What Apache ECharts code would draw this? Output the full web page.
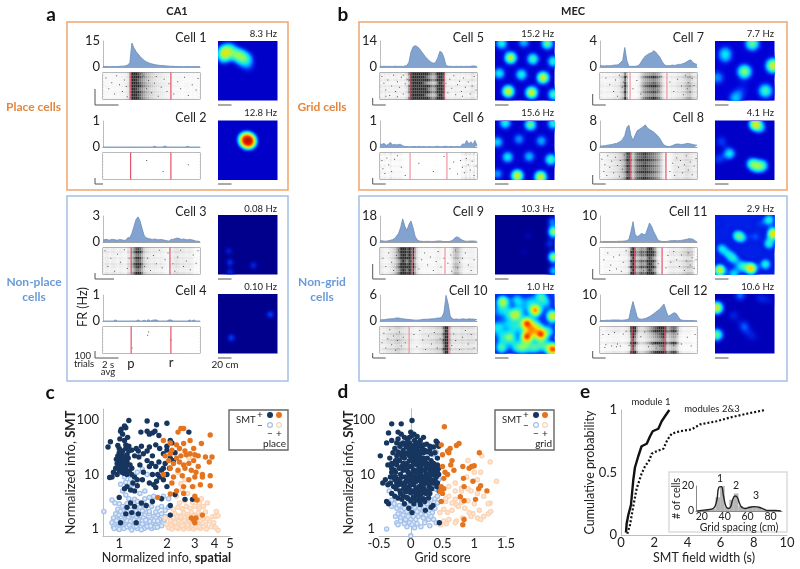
<!DOCTYPE html>
<html>
<head>
<meta charset="utf-8">
<style>html,body{margin:0;padding:0;background:#fff}#chart{width:800px;height:569px}</style>
<script src="https://cdn.jsdelivr.net/npm/echarts@6/dist/echarts.min.js"></script>
</head>
<body>
<div id="chart"></div>
<script>
const cellNames = ['Cell 1','Cell 2','Cell 3','Cell 4','Cell 5','Cell 6','Cell 7','Cell 8','Cell 9','Cell 10','Cell 11','Cell 12']
const peakRates = ['8.3 Hz','12.8 Hz','0.08 Hz','0.10 Hz','15.2 Hz','15.6 Hz','7.7 Hz','4.1 Hz','10.3 Hz','1.0 Hz','2.9 Hz','10.6 Hz']
const frMax = [15,1,3,1,14,1,4,8,18,6,10,10]
const timeBins = ['0','1','2','3','4','5','6','7','8','9','10','11','12','13','14','15','16','17','18','19','20','21','22','23','24','25','26','27','28','29','30','31','32','33','34','35','36','37','38','39','40','41','42','43','44','45','46','47']

// firing rate per time bin
const fr1 = [.3,.3,.3,.2,.3,.3,.3,.3,.4,.5,.5,.7,1.1,2.5,13.8,11,9,7.5,6,4.8,3.8,3,2.5,2,1.7,1.4,1.2,1,.9,.8,.7,.6,.5,.4,.4,.3,.3,.3,.3,.2,.3,.3,.3,.2,.3,.2,.3,.2]
const fr2 = [0,0,0,0,0,0,0,0,0,0,0,0,0,0,0,0,0,0,0,0,0,0,0,0,0,.03,0,0,0,0,.04,0,0,0,0,0,0,0,0,0,0,.03,0,0,0,0,0,0]
const fr3 = [.2,.3,.3,.2,.3,.3,.25,.2,.3,.25,.2,.2,.5,.5,1,1.8,2.6,2.9,2.4,1.5,.7,.5,.4,.35,.3,.35,.3,.25,.3,.25,.2,.15,.1,.3,.3,.4,.45,.4,.3,.35,.3,.25,.3,.25,.2,.1,.1,.05]
const fr4 = [0,0,0,0,0,0,.04,0,0,0,0,0,0,0,0,0,0,.04,0,0,.03,0,.05,0,.03,.04,.04,0,0,0,0,0,.04,.04,0,0,0,0,0,0,0,0,.04,0,.04,0,0,0]
const fr5 = [.4,.3,.4,.3,.4,.3,.3,.4,.4,.3,.4,.3,.5,.8,2.5,8,10.8,11.5,11,10,8.5,7,5.5,4.3,3.2,2.4,2,2.6,5,8.4,7.8,5,.8,.4,.4,.3,.3,.4,.3,.4,.3,.3,.4,.3,.4,.6,.5,.3]
const fr6 = [.12,.1,.14,.06,.1,.18,.08,.1,.08,.1,.1,.05,.02,.02,.01,.01,.02,.02,.01,.03,.01,.02,.01,.01,.02,.01,.01,.02,.03,.01,.01,.02,.03,.01,.02,.02,.01,.02,.02,.01,.12,.1,.25,.12,.2,.1,.25,.05]
const fr7 = [.2,.2,.15,.2,.2,.2,.25,.3,.3,.4,.7,1,3,1,.1,.1,.1,.1,.15,.3,.8,1.3,1.7,1.9,2.1,2.2,2.5,2.3,1.9,1.5,.9,.4,.2,.2,.2,.3,.25,.3,.4,.4,.5,.6,.8,1,1.1,.7,.5,.4]
const fr8 = [.3,.3,.4,.5,.6,.7,.8,1,1.1,1.4,1.8,2.4,3.5,6,6.7,3.5,2,3.6,5,5.4,5.8,6.3,6.8,5.8,5.4,5,4.6,4,3.4,2.6,1.5,.6,.3,.15,.2,.4,.7,.9,.9,.8,.8,.9,1.1,1.1,.9,.8,.6,.6]
const fr9 = [1,.8,.6,.6,.8,1.2,1.6,2.4,4,6,10,16,11,8,12,14.5,10,4,1.5,.7,.5,.4,.4,.5,.4,.4,.4,.5,.7,.7,.5,.3,.3,.3,.5,1,2.5,3.5,3.3,2,1.2,.7,.5,.6,.7,.7,.6,.4]
const fr10 = [.2,.3,.3,.4,.45,.5,.5,.6,.7,.7,.6,.5,.45,.4,.35,.3,.25,.2,.2,.25,.3,.4,.4,.4,.45,.5,.5,.6,.7,.7,.9,2,5.9,4,1.2,.5,.4,.45,.4,.4,.5,.45,.4,.5,.45,.45,.4,.3]
const fr11 = [.1,.1,.2,.2,.2,.2,.2,.2,.2,.25,.3,.3,.4,.5,1,4,7.8,3,2,2.5,3.3,3,2.8,5,7.3,6,4,2.5,.8,.4,.2,.2,.2,.3,.5,.5,.6,.5,.5,.6,.7,.9,1,1.3,1.2,1.1,.5,0]
const fr12 = [.2,.2,.2,.3,.3,.3,.4,.4,.4,.4,.3,.3,.4,.5,.8,4.5,7.5,4.5,1.6,.8,.7,.8,1,1.3,1.7,2.2,2.8,3.4,4,4.6,5.6,6.5,4,1.8,2.2,2.8,3.2,2.8,1.5,.5,.3,.2,.2,.2,.2,.15,.1,.1]
const firingRates = [fr1,fr2,fr3,fr4,fr5,fr6,fr7,fr8,fr9,fr10,fr11,fr12]

// rate at which a raster column looks fully black
const rasterSat = [8,10,3,10,5,2,3,7,10,3,5,5]
// how busy each band of trials is, bottom to top
const trialBands = [
  [1,.9,1.1,.8,1.2,1,.85,1.1,.95],
  [1,1,1,1,1,1,1,1,1],
  [1.2,.7,1,1.3,.8,1.1,.7,1.2,.9],
  [1,1,1,1,1,1,1,1,1],
  [1.3,.7,1.3,.9,1.4,.6,1.3,.8,1.2],
  [1.2,.6,.9,.5,1,.4,.9,.5,1.2],
  [1.2,.7,1.1,.8,1.3,.9,.7,1.2,.6],
  [1.1,.8,1.2,.9,1.1,.85,1.2,.9,1],
  [1.1,.8,1.2,1,.7,1.2,.9,1.1,1],
  [.8,1.3,.7,1,1.3,.8,1.2,.7,1],
  [1.2,.7,1.3,.8,1.2,.6,1.1,1.2,.8],
  [1.4,.5,.6,1.5,.5,.7,.8,1.5,1.1],
]
const pTime = [28,28.5,29,29,32,31,31,31,33,30,36,33]
const rTime = [70,70,69,70,66,69,69,68,67,71,64,67]

// loose spikes, [time %, trial %]
const spikes1 = [[3,80],[6,40],[9,62],[12,20],[14,88],[17,55],[20,30],[22,72],[25,10],[24,48],[38,15],[42,88],[45,40],[47,70],[50,25],[53,60],[55,85],[57,12],[60,45],[63,75],[66,30],[68,58],[73,20],[77,66],[80,40],[84,82],[88,15],[92,55],[96,35],[98,78]]
const spikes2 = [[45,70],[62,30],[88,55]]
const spikes3 = [[2,88],[5,30],[8,60],[12,12],[15,75],[18,45],[22,92],[25,22],[27,60],[40,85],[43,30],[46,60],[49,15],[52,70],[55,40],[58,90],[61,25],[64,55],[67,80],[72,40],[74,12],[77,65],[80,90],[83,30],[86,50],[90,18],[93,72],[96,42],[98,88]]
const spikes4 = [[47,80],[46,68],[70,50],[30,20]]
const spikes5 = [[2,85],[4,60],[6,35],[8,72],[10,15],[12,50],[14,90],[16,30],[18,66],[20,45],[22,82],[24,20],[26,58],[28,75],[30,38],[68,60],[70,25],[72,75],[74,42],[76,88],[78,18],[80,55],[82,68],[84,30],[86,80],[88,45],[91,65],[93,20],[95,50],[97,85],[99,35],[6,12],[18,10],[24,90],[85,12]]
const spikes6 = [[2,70],[3,40],[5,22],[7,80],[9,55],[12,30],[15,75],[18,88],[22,45],[26,15],[40,60],[55,30],[66,85],[72,40],[76,65],[80,20],[83,70],[85,45],[87,25],[89,78],[91,55],[93,35],[95,68],[97,15],[99,50]]
const spikes7 = [[6,80],[10,55],[14,30],[16,72],[18,12],[20,90],[23,45],[24,65],[25,25],[27,85],[34,40],[38,70],[42,20],[56,60],[60,35],[63,85],[72,65],[76,30],[80,75],[84,50],[86,18],[88,90],[90,40],[91,62],[93,28],[95,78],[97,52]]
const spikes8 = [[2,75],[4,30],[5,55],[7,15],[8,88],[10,45],[12,68],[14,25],[16,82],[18,52],[20,12],[21,70],[23,38],[25,90],[72,30],[75,60],[77,15],[79,80],[81,45],[83,70],[85,25],[87,55],[89,88],[91,35],[93,65],[95,18],[97,50],[99,78]]
const spikes9 = [[3,60],[6,30],[9,80],[12,45],[14,15],[17,70],[19,90],[40,20],[43,55],[46,80],[49,35],[52,65],[55,15],[58,48],[60,85],[63,28],[66,60],[70,42],[73,72],[80,25],[85,60],[88,80],[91,35],[94,15],[97,55],[74,12],[78,90],[82,45]]
const spikes10 = [[2,40],[4,75],[6,20],[8,55],[10,88],[12,32],[14,65],[16,12],[18,48],[20,80],[22,28],[24,60],[26,40],[35,70],[38,25],[41,85],[44,50],[47,15],[50,65],[53,35],[56,78],[59,20],[62,55],[74,30],[76,72],[78,48],[82,15],[85,60],[88,85],[91,35],[94,70],[97,20],[99,50]]
const spikes11 = [[4,55],[8,80],[11,35],[14,65],[17,20],[20,72],[24,45],[27,88],[30,28],[45,15],[60,40],[68,25],[70,70],[73,45],[76,85],[79,55],[82,30],[84,72],[87,15],[89,50],[91,80],[93,35],[95,62],[97,22],[99,55],[10,15],[22,12]]
const spikes12 = [[3,70],[6,32],[9,70],[12,28],[15,78],[18,35],[21,28],[24,72],[27,82],[30,30],[42,62],[46,80],[50,25],[54,35],[58,20],[62,28],[64,72],[76,30],[80,72],[84,35],[90,60],[94,28],[98,70],[5,22],[17,25],[70,80]]
const rasterSpikes = [spikes1,spikes2,spikes3,spikes4,spikes5,spikes6,spikes7,spikes8,spikes9,spikes10,spikes11,spikes12]

// firing fields on the rate maps, [x, y, strength]
const fields1 = [[11,82,.93],[10,73,.5],[20,87,.42],[31,77,.58],[40,74,.45],[49,70,.38],[52,56,.18],[40,62,.18]]
const fields2 = [[49,67,.9],[52,65,.7],[45,69,.5]]
const fields3 = [[18,40,.17],[20,21,.22],[20,5,.2],[59,16,.2]]
const fields4 = [[87,66,.25],[22,27,.25]]
const fields5 = [[26,72,.68],[63,70,.5],[97,66,.45],[7,46,.42],[44,44,.45],[80,39,.88],[22,16,.75],[61,14,.83],[98,11,.5],[11,96,.45],[48,98,.35],[87,96,.55]]
const fields6 = [[17,96,.45],[59,93,.55],[97,95,.45],[40,69,.3],[4,64,.38],[77,66,.33],[21,39,.42],[57,40,.35],[93,35,.5],[37,8,.8],[76,6,.95],[4,11,.3]]
const fields7 = [[17,81,.3],[62,96,.55],[49,49,.6],[97,59,.85],[4,39,.3],[84,17,.5],[34,5,.35],[45,19,.15],[17,72,.22]]
const fields8 = [[67,94,.95],[76,88,.3],[24,45,.42],[11,65,.2],[62,28,.5],[79,25,.45],[70,22,.35],[6,36,.2]]
const fields9 = [[98,72,.9],[98,30,.85],[92,52,.2],[98,7,.4],[96,89,.3],[55,66,.08],[48,40,.06]]
const fields10 = [[53,51,.8],[53,29,.8],[76,33,.85],[67,73,.65],[34,65,.5],[96,63,.55],[13,87,.5],[96,8,.85],[25,28,.42],[11,11,.38],[48,11,.38],[70,48,.3],[3,45,.3],[37,90,.3],[76,96,.35],[20,50,.25],[65,11,.35],[62,40,.5],[58,88,.25],[90,38,.28],[20,70,.25],[45,75,.2],[85,85,.25],[35,45,.3],[35,12,.3],[80,15,.32],[10,30,.25],[5,70,.2]]
const fields11 = [[97,69,.9],[8,8,.65],[60,11,.8],[90,52,.4],[37,66,.38],[11,44,.35],[31,27,.35],[45,15,.4],[84,18,.4],[90,92,.4],[67,64,.2],[31,2,.35],[3,86,.1],[45,62,.32],[22,35,.3],[75,85,.15]]
const fields12 = [[3,77,.85],[3,32,.55],[42,98,.25],[48,47,.22],[31,64,.15],[76,93,.15],[65,28,.1],[90,90,.1],[55,35,.12]]
const rateFields = [fields1,fields2,fields3,fields4,fields5,fields6,fields7,fields8,fields9,fields10,fields11,fields12]

// panel c, [normalized info spatial, normalized info SMT]
const placeSmtPos = [[.88,40],[.85,32],[1.08,78],[1.15,98],[1.03,68],[1.02,62],[1.05,55],[1.1,72],[1.13,48],[1.08,42],[1.01,45],[1.5,96],[1.72,82],[2.0,87],[1.5,62],[1.55,55],[1.62,58],[1.68,62],[1.78,52],[2.75,60],[1.37,60],
[.98,34],[1.0,30],[1.05,27],[1.1,30],[1.15,27],[1.2,28],[1.28,30],[1.32,27],[1.38,33],[1.42,24],[1.5,27],[1.55,32],[1.62,22],[1.7,35],[1.8,30],[1.9,24],[2.0,28],[2.15,38],[2.25,25],[2.1,42],
[.98,22],[1.0,20],[1.02,18],[1.04,22],[1.06,19],[1.08,16],[.97,16],[1.0,15],[1.03,14],[1.06,14],[1.1,13],[1.12,17],[1.14,20],[1.17,15],[1.2,13],[1.08,12],[1.04,11],[1.0,12],[.95,13],[.92,11],[.9,9],[.87,8.8],[1.12,10],[1.16,11.5],[1.2,10],[1.25,9],[1.3,8],[1.35,15],[1.42,11],[1.5,18],[1.55,14],[1.62,10],[1.7,14],[1.78,17],[1.85,12],[1.95,16],[2.08,13],[2.2,18],
[1.22,7],[1.3,6.2],[1.12,6],[1.08,5.5],[1.18,5.2],[1.25,5],[1.4,8],[1.55,7],[1.65,6.5],[1.72,7.5],[1.8,9],[1.9,8],[2.0,10],[1.7,5.8],[1.0,3.8],[1.18,3],[1.25,2.6],[1.12,2.5],[1.2,2],[1.38,3],[1.48,2.7],[1.32,1.9],[1.62,3.2],[1.85,3.6],[2.1,2.7],[2.25,4.3],[2.0,6],[2.6,3.5],[2.9,3.5],[1.02,1.3],[1.28,1.3],[2.1,1.8],[1.1,1.9],
[1.0,25],[1.04,24],[1.08,21],[1.12,23],[.96,19],[1.01,17],[1.05,16],[1.09,18],[1.13,15],[1.02,13],[1.07,10.5],[.97,10],[1.1,35],[1.15,33],[1.25,22],[1.33,21],[1.6,16],[1.75,10],[1.9,13],[2.1,20],[2.0,33]]
const placeSmtNeg = [[.8,2.1],[.94,3],[1.0,2.9],[1.05,2.6],[.98,2.3],[1.1,2.4],[1.18,2.6],[1.25,2.4],[1.35,2.5],[1.45,2.3],[1.6,2.6],[1.75,2.4],[1.85,2.6],[1.95,2.2],[2.05,2.5],
[.95,1.9],[1.0,1.8],[1.05,1.9],[1.1,1.7],[1.15,1.9],[1.22,1.8],[1.3,1.7],[1.38,1.9],[1.45,1.8],[1.55,1.9],[1.65,1.7],[1.75,1.8],[1.85,1.9],[1.95,1.7],[.92,1.6],[.98,1.5],[1.03,1.6],[1.08,1.5],[1.14,1.6],[1.2,1.5],[1.27,1.6],[1.34,1.5],[1.42,1.6],[1.5,1.5],[1.6,1.5],[1.7,1.6],[1.8,1.5],[1.92,1.45],
[.9,1.3],[.94,1.2],[.98,1.32],[1.02,1.2],[1.06,1.35],[1.1,1.2],[1.15,1.3],[1.2,1.2],[1.25,1.35],[1.3,1.2],[1.36,1.3],[1.42,1.18],[1.48,1.32],[1.55,1.2],[1.62,1.3],[1.7,1.18],[1.78,1.3],[1.85,1.15],[.92,1.1],[.97,1.05],[1.02,1.1],[1.07,1.02],[1.12,1.1],[1.18,1.03],[1.24,1.1],[1.3,1.02],[1.37,1.1],[1.44,1.03],[1.52,1.1],[1.6,1.02],[1.68,1.08],[1.38,.97],[1.2,.96],[1.0,.98],
[1.1,4.2],[1.05,5],[1.15,3.6],[1.25,3.5],[1.3,3.2],[1.45,3.6],[1.55,3.8],[1.65,4],[1.35,4.5],[1.45,5],[1.2,6.5],[1.1,7.2],[1.02,6.6],[1.3,11],[1.4,12.5],[1.5,10],[1.08,9],[1.18,8.2],[1.9,4],[2.05,3.6],[.9,3.4],
[.96,1.42],[1.04,1.44],[1.12,1.42],[1.18,1.38],[1.24,1.46],[1.32,1.42],[1.4,1.4],[1.47,1.45],[1.56,1.38],[1.66,1.42],[1.75,1.4],[.93,1.02],[1.04,1.22],[1.16,1.18],[1.28,1.12],[1.4,1.24],[1.5,1.12],[1.58,1.14],[1.74,1.08],[1.02,2.1],[1.12,2.05],[1.28,2.1],[1.4,2.15],[1.55,2.1],[1.7,2.05],[1.12,2.9],[1.42,2.9]]
const placeSmtNegPlace = [[2.0,1.2],[2.1,1.45],[2.2,1.2],[2.3,1.5],[2.4,1.25],[2.5,1.55],[2.6,1.2],[2.7,1.5],[2.8,1.25],[2.9,1.55],[3.0,1.2],[3.1,1.45],[3.2,1.25],[3.35,1.5],[3.5,1.2],[2.05,1.05],[2.15,1.0],[2.25,1.1],[2.35,1.02],[2.45,1.08],[2.55,1.0],[2.65,1.1],[2.75,1.02],[2.85,1.1],[2.95,1.0],[3.1,1.08],[3.25,1.02],[3.4,1.1],[3.55,1.0],[2.1,1.8],[2.25,1.9],[2.4,1.75],[2.55,2],[2.7,1.85],[2.85,2.05],[3.0,1.8],[3.15,2],[3.3,1.85],[3.5,2.05],[2.2,2.3],[2.35,2.5],[2.5,2.35],[2.65,2.6],[2.8,2.4],[3.0,2.6],[3.2,2.4],[3.4,2.6],[2.4,3],[2.6,3.3],[2.9,3.1],[3.2,3],[3.0,3.8],[2.3,4],[2.7,4.5],[2.5,5.3],[3.3,3.6],[3.6,3],[3.9,1.7],[4.05,1.7],[4.1,2.1],[4.2,1.75],[3.95,1.3],[4.05,1.05],[4.2,.95],[3.7,1.4],[3.8,1.1],[2.45,6.8],[2.6,8],[2.95,6],[2.35,11],[2.75,20],[3.05,22],[2.3,1.7],[3.6,1.55],[1.95,1.6],[2.6,1.6],[3.05,1.4],
[2.12,1.2],[2.25,1.32],[2.38,1.4],[2.48,1.32],[2.58,1.42],[2.68,1.3],[2.78,1.42],[2.88,1.32],[2.98,1.42],[3.12,1.3],[3.25,1.42],[2.2,1.6],[2.45,1.65],[2.75,1.7],[2.95,1.7],[3.2,1.65],[2.3,1.08],[2.5,1.15],[2.7,1.18],[2.9,1.17],[3.05,1.1],[3.2,1.12]]
const placeSmtPosPlace = [[2.55,70],[2.45,70],[3.75,53],[2.35,60],[1.9,42],[2.1,38],[2.3,35],[2.55,37],[2.8,42],[2.95,30],[3.3,37],[2.15,28],[2.4,30],[2.6,27],[1.95,22],[2.1,24],[2.3,20],[2.45,22],[2.65,23],[2.8,24],[3.0,23],[3.15,22],[3.5,21],[3.85,21],[2.05,18],[2.2,16],[2.4,17],[2.55,15],[2.75,16],[2.95,18],[3.15,14],[3.7,17],[2.1,13],[2.35,12],[2.6,13],[2.85,12],[3.05,11],[3.35,10],[1.9,10],[2.2,9],[2.5,9.5],[2.75,8],[3.0,9],[3.35,9],[3.75,9.5],[2.15,7],[2.55,6],[2.9,6],[3.25,6.5],[3.75,6.2],[2.3,5],[2.55,4.5],[3.0,4],[1.75,3.8],[2.1,4.4],[3.1,3.4],[2.85,1.6],[3.05,1.6],[3.35,1.8],[3.0,1.3],[2.95,1.45]]

// panel d, [grid score, normalized info SMT]
const gridSmtPos = [[-.3,85],[-.15,85],[.02,98],[-.35,58],[-.2,60],[-.48,22],[-.38,38],[-.3,42],[-.25,30],[-.2,45],[-.15,55],[-.1,48],[-.05,42],[.0,60],[.05,55],[.1,50],[.15,42],[.2,48],[.25,36],[.02,52],[-.02,38],[.06,35],[.12,33],[.18,30],[.3,28],[.36,32],[.42,38],[-.33,20],[-.28,25],[-.22,22],[-.17,33],[-.12,28],[-.07,32],[-.02,30],[.03,27],[.08,24],[.14,22],[.2,25],[.26,20],[.32,18],[.38,25],[.42,15],
[-.4,8],[-.36,6.5],[-.3,16],[-.26,12],[-.22,15],[-.18,18],[-.14,14],[-.1,20],[-.06,16],[-.02,18],[.02,14],[.06,19],[.1,15],[.14,13],[.18,16],[.22,12],[.26,14],[.3,11],[.34,13],[.38,12],[.42,13],[.44,10],[-.28,9],[-.24,11],[-.2,8],[-.16,10],[-.12,12],[-.08,9],[-.04,11],[.0,10],[.04,12],[.08,9],[.12,11],[.16,10],[.2,8.5],[.24,10],[.28,9],[.32,8],[.36,10],[.4,9],
[-.44,7],[-.32,7],[-.27,6],[-.23,5.5],[-.19,6.5],[-.15,7],[-.11,5.5],[-.07,7.5],[-.03,6],[.01,7.5],[.05,6.5],[.09,7.5],[.13,6],[.17,7],[.21,5.5],[.25,7],[.29,6],[.33,5.5],[.37,7],[.41,6],[.45,5],
[-.38,3.2],[-.35,2.9],[-.3,4.5],[-.25,4],[-.2,3.7],[-.16,4.5],[-.12,4],[-.08,4.8],[-.04,3.6],[0,4.6],[.04,3.8],[.08,4.6],[.12,3.5],[.16,4.4],[.2,3.6],[.24,4.5],[.28,3.7],[.32,2.5],[-.1,2.9],[-.03,2.4],[.05,2.9],[.15,2.8],[.23,2.2],[.35,2.7],[.02,2],[.45,1.3],
[-.2,26],[-.08,24],[.05,22],[.16,19],[-.12,16],[.0,24],[.1,28],[.25,16],[-.36,15],[-.3,11],[.06,11],[.16,13],[-.02,8],[.1,8.5],[-.17,5],[.02,5],[.3,4.5],[-.25,8],[.2,20],[.36,16],[.42,20],[.4,41],[.44,33],[-.1,36],[.2,35],[.3,33],
[-.24,18],[-.18,13],[-.14,21],[-.1,14],[-.06,12],[-.02,14],[.02,20],[.04,16],[.08,18],[.1,12],[.12,17],[.16,15],[.18,12],[.22,17],[.24,14],[.28,13],[.3,15],[.34,10],[.38,14],[.4,11],[-.22,7],[-.18,8],[-.14,9],[-.1,7],[-.06,8],[-.02,10],[.02,9],[.04,7],[.06,8],[.08,11],[.12,9],[.14,8],[.18,9],[.22,8],[.26,8],[.3,7],[.34,7],[.38,8],[-.12,6.5],[-.08,6],[-.04,7.5],[0,6.5],[.04,8.5],[.08,5.5],[.12,5],[.16,5.5],[.2,6.5],[.24,5],[.28,5],[-.06,5],[-.02,5.2],[.06,4.8],[.1,4.2],[.14,4],[.18,4.6],[-.14,3.5],[-.06,3.8],[0,3.3],[.08,3.4],[.14,3.2],[.22,3.2],[-.05,25],[-.02,22],[.02,26],[.06,30],[.1,21],[.14,26],[-.1,24],[-.16,24],[-.2,18],[-.05,34],[.02,33],[.06,42],[.1,38],[-.02,48],[-.12,38],[-.16,36],[-.22,38],[.14,35],[.22,28],[.26,26],[.32,24],[-.26,16],[-.32,9],[-.3,13],[-.24,9],[.36,12],[.42,11],[.42,7],[.44,13]]
const gridSmtNeg = [[-.38,1],[.0,.75],[-.3,2.6],[-.26,2.9],[-.22,2.4],[-.18,2.7],[-.14,2.2],[-.1,2.4],[-.06,2.1],[-.02,2.7],[.02,2.3],[.06,2.5],[.1,2.1],[.14,2.4],[.18,2.1],[.22,2.6],[.26,2.9],[.3,2.2],[.34,2],[.38,2.4],[.42,3],[-.24,1.7],[-.2,1.9],[-.16,1.6],[-.12,1.8],[-.08,1.5],[-.04,1.7],[0,1.5],[.04,1.7],[.08,1.5],[.12,1.7],[.16,1.9],[.2,1.6],[.24,1.8],[.28,1.5],[.32,1.7],[.36,1.5],[.4,1.3],[-.22,1.3],[-.2,1.2],[-.16,1.4],[-.1,1.25],[-.06,1.1],[-.02,1.3],[.02,1.2],[.06,1.05],[.1,1.25],[.16,1.1],[.22,1.3],[.3,1.15],[-.3,3.4],[-.24,3.6],[.32,3.4],[.38,3.6],[.42,4],[.42,5.2],[.38,5.5],[.4,7.5],[.35,23],[.4,26],[-.34,5],[.44,8]]
const gridSmtPosGrid = [[.53,75],[.48,35],[.5,23],[.58,27],[.62,30],[.6,25],[.72,34],[.76,37],[1.08,25],[.65,18],[.63,15],[.68,12],[.5,14],[.54,11],[.52,8.5],[.58,10],[.82,14],[.92,13],[.96,14],[1.0,14.5],[.83,8.5],[.98,7.5],[.48,6],[.52,5.5],[.84,6],[1.1,6.2],[1.07,5.5],[1.2,5],[.84,3.3],[1.02,3.5],[.48,3.2],[.46,5],[.78,3.9],[.84,1.5],[.82,1.2],[.5,4.5]]
const gridSmtNegGrid = [[1.12,22],[1.25,17],[1.35,7.5],[.9,18],[1.0,11],[1.1,11],[.88,9],[1.05,8],[.7,7],[.6,6],[.7,5],[.8,5],[.9,5.5],[.95,5],[1.05,4.5],[1.15,4],[1.25,3],[1.22,2.9],[.6,4],[.7,3.5],[.8,3.1],[.9,3.3],[1,2.9],[1.08,2.2],[.55,3.2],[.65,3],[.72,2.8],[.52,2.3],[.58,2],[.65,2.2],[.75,2.6],[.85,2.4],[.92,2],[.98,1.9],[1.05,1.6],[1.15,1.7],[1.22,1.9],[1.26,2.1],[.52,1.4],[.6,1.5],[.72,1.4],[.82,1.6],[.95,1.7],[1.1,1.5],[.46,2],[.47,1.2],[.56,1.25],[.7,1.3],[.8,5.6],[.55,3.6]]

// panel e, [SMT field width s, cumulative probability]
const module1Cdf = [[.3,.02],[.34,.09],[.44,.16],[.6,.24],[.74,.44],[.84,.54],[1.04,.63],[1.24,.71],[1.55,.73],[1.75,.79],[1.91,.83],[2.25,.85],[2.45,.91],[2.65,.95],[2.91,1]]
const modules23Cdf = [[.38,.01],[.54,.08],[.74,.23],[.94,.37],[1.24,.49],[1.45,.55],[1.71,.6],[1.85,.65],[2.15,.67],[2.55,.69],[2.79,.76],[3.05,.81],[3.55,.83],[4.26,.845],[4.76,.885],[5.76,.91],[6.57,.94],[7.57,.97],[8.67,1]]

// inset, [grid spacing cm, # of cells]
const spacingBars = [[22,1],[26,1.2],[30,2],[34,11],[38,20],[42,3],[46,9],[50,14],[54,4],[58,2],[62,3.5],[66,3.5],[70,3],[74,1.5],[78,.8],[82,.8],[86,.5]]
const spacingCurve = [[16,0],[20,.5],[25,1],[30,2],[33,8],[35,19],[37,19.5],[39,12],[41,4],[43,2],[45,3],[47,9],[49,12],[51,11],[53,6],[55,3],[58,2],[62,3],[66,3.5],[70,3],[74,1.5],[78,.5],[84,.5],[89,0]]

const font = 'Lato'
const textDark = '#222'
const axisGray = '#bdbdbd'

const plotCols = [103, 380, 600]
const mapCols = [218, 495, 715]
const nameRight = [206.5, 484, 704]
const rateRight = [277, 554, 774]
const rowPlotTop = [41, 121, 216, 295]
const rowMapTop = [41, 120.5, 215, 294]
const rowName = [38, 118, 212, 291]
const rowRate = [34, 113, 209, 287]
const rowBar = [105, 184, 279, 358]
const cellCol = [0,0,0,0,1,1,2,2,1,1,2,2]
const cellRow = [0,1,2,3,0,1,0,1,2,3,2,3]
const barTop = [89,178,273,351,98,178,94,175,264,353,269,351]
const barRight = [118.5,103,114,118.5,385.7,385.7,605.7,605.7,385.7,385.7,605.7,605.7]
const barLeft = [95, 372.7, 592.7]
const mapBase = ['#0000c8','#0000c8','#00008c','#00008c','#0000d0','#0000d0','#0000d8','#0000c8','#000090','#0040ff','#0020e8','#0000b8']
const mapBlob = [[5,8],[6,7],[3,5],[3,5],[5,7],[5,7],[6,8],[5,7],[4,6],[6,6],[5,6],[5,7]]
const redLine = ['#e0455c','#e0455c','#e0455c','#e0455c','#e0455c','#f08a9a','#f08a9a','#e0455c','#f08a9a','#f08a9a','#e0455c','#e0455c']

echarts.registerMap('arena', {
  type: 'FeatureCollection',
  features: [{
    type: 'Feature',
    properties: { name: 'arena' },
    geometry: { type: 'Polygon', coordinates: [[[0,0],[0,100],[100,100],[100,0],[0,0]]] },
  }],
})

const grid = []
const xAxis = []
const yAxis = []
const series = []
const geo = []
const graphic = []
const mapSeries = []
const rasterSeries = []

function text(str, x, y, size, opt = {}) {
  graphic.push({
    type: 'text', x, y, rotation: opt.rotation || 0, silent: true,
    style: {
      text: str, fontFamily: font, fontSize: size, fontWeight: opt.weight || 'normal',
      fill: opt.color || textDark, align: opt.align || 'center', verticalAlign: 'middle',
    },
  })
}
function line(x1, y1, x2, y2, color, width) {
  graphic.push({ type: 'line', silent: true, shape: { x1, y1, x2, y2 }, style: { stroke: color, lineWidth: width } })
}
function frame(x, y, width, height, color, lineWidth) {
  graphic.push({ type: 'rect', silent: true, shape: { x, y, width, height }, style: { fill: 'none', stroke: color, lineWidth } })
}
function dot(x, y, fill, stroke) {
  graphic.push({ type: 'circle', silent: true, shape: { cx: x, cy: y, r: 2.4 }, style: { fill, stroke, lineWidth: 1.2 } })
}

cellNames.forEach((name, i) => {
  const left = plotCols[cellCol[i]]
  const row = cellRow[i]
  const top = rowPlotTop[row]

  // firing rate curve
  let g = grid.length
  grid.push({ left, top, width: 97, height: 26 })
  xAxis.push({
    type: 'category', gridIndex: g, data: timeBins, boundaryGap: false, z: 5,
    axisLine: { lineStyle: { color: '#a0a0a0', width: 1 } }, axisTick: { show: false }, axisLabel: { show: false },
  })
  yAxis.push({
    type: 'value', gridIndex: g, min: 0, max: frMax[i], interval: frMax[i],
    axisLine: { show: true, lineStyle: { color: axisGray, width: 1 } }, axisTick: { show: false }, splitLine: { show: false },
    axisLabel: { color: textDark, fontSize: 13, fontFamily: font, margin: 3 },
  })
  series.push({
    type: 'line', xAxisIndex: g, yAxisIndex: g, data: firingRates[i], showSymbol: false, silent: true,
    lineStyle: { color: '#6a8cb8', width: 0.8 }, areaStyle: { color: '#82a3cf', opacity: 1 },
  })

  // spike raster
  g = grid.length
  grid.push({ left, top: top + 31.5, width: 97, height: 27, show: true, borderColor: '#777', borderWidth: 1, backgroundColor: '#fff' })
  xAxis.push({ type: 'value', gridIndex: g, min: 0, max: 100, show: false })
  yAxis.push({ type: 'value', gridIndex: g, min: 0, max: 100, show: false })
  const density = []
  firingRates[i].forEach((v, b) => {
    trialBands[i].forEach((gain, r) => {
      density.push([(b + 0.5) * 100 / timeBins.length, (r + 0.5) * 100 / trialBands[i].length, Math.min(1, gain * v / rasterSat[i])])
    })
  })
  rasterSeries.push(series.length)
  series.push({
    type: 'scatter', xAxisIndex: g, yAxisIndex: g, symbol: 'rect', symbolSize: [2.1, 3], silent: true,
    itemStyle: { opacity: 1 }, data: density,
  })
  series.push({
    type: 'scatter', xAxisIndex: g, yAxisIndex: g, symbol: 'rect', symbolSize: 1, silent: true,
    itemStyle: { color: '#555', opacity: 1 }, data: rasterSpikes[i],
  })
  ;[pTime[i], rTime[i]].forEach(t => {
    series.push({
      type: 'line', xAxisIndex: g, yAxisIndex: g, data: [[t, 0], [t, 100]], showSymbol: false, silent: true, z: 4,
      lineStyle: { color: redLine[i], width: 1.1 },
    })
  })

  // rate map
  const geoIndex = geo.length
  geo.push({
    map: 'arena', silent: true, roam: false, aspectScale: 1,
    left: mapCols[cellCol[i]], top: rowMapTop[row], width: 59.5, height: 59.5,
    label: { show: false }, emphasis: { disabled: true }, select: { disabled: true },
    itemStyle: { areaColor: mapBase[i], borderWidth: 0 },
  })
  mapSeries.push(series.length)
  series.push({
    type: 'heatmap', coordinateSystem: 'geo', geoIndex, data: rateFields[i], silent: true,
    pointSize: mapBlob[i][0], blurSize: mapBlob[i][1], minOpacity: 0, maxOpacity: 5,
  })

  text(name, nameRight[cellCol[i]] + (i >= 9 ? 3.5 : 0), rowName[row], 12.5, { align: 'right' })
  text(peakRates[i], rateRight[cellCol[i]], rowRate[row], 9.5, { align: 'right' })

  const x0 = barLeft[cellCol[i]]
  line(x0, barTop[i], x0, rowBar[row], '#555', 1)
  line(x0, rowBar[row], barRight[i], rowBar[row], '#555', 1)
  line(mapCols[cellCol[i]], rowBar[row], mapCols[cellCol[i]] + 13.5, rowBar[row], '#555', 1)
})

function logScatterPanel(left, width, xOpt, yOffset) {
  const g = grid.length
  grid.push({ left, top: 409, width, height: 127 })
  xAxis.push(Object.assign({
    gridIndex: g, axisLine: { lineStyle: { color: axisGray, width: 1 } }, axisTick: { show: false }, splitLine: { show: false },
    nameLocation: 'middle', nameGap: 15, nameMoveOverlap: false,
  }, xOpt))
  yAxis.push({
    type: 'log', gridIndex: g, min: 0.745, max: 159, logBase: 10, nameLocation: 'middle', nameGap: yOffset, nameMoveOverlap: false,
    name: '{a|Normalized info, }{b|SMT}', nameTextStyle: { rich: {
      a: { fontFamily: font, fontSize: 13, color: textDark },
      b: { fontFamily: font, fontSize: 13, color: textDark, fontWeight: 'bold' },
    } },
    axisLine: { show: true, lineStyle: { color: axisGray, width: 1 } }, axisTick: { show: false }, splitLine: { show: false },
    axisLabel: { color: textDark, fontSize: 13, fontFamily: font, margin: 4, customValues: [1, 10, 100] },
  })
  return g
}
function scatterSet(g, data, color, border) {
  series.push({
    type: 'scatter', xAxisIndex: g, yAxisIndex: g, data, symbolSize: border ? 4.2 : 5.4, silent: true,
    itemStyle: border ? { color, borderColor: border, borderWidth: 1.3, opacity: 1 } : { color, opacity: 1 },
  })
}

// panel c
let g = logScatterPanel(103, 127, {
  type: 'log', min: 0.79, max: 5, logBase: 10,
  name: '{a|Normalized info, }{b|spatial}',
  nameTextStyle: { rich: {
    a: { fontFamily: font, fontSize: 12.5, color: textDark },
    b: { fontFamily: font, fontSize: 12.5, color: textDark, fontWeight: 'bold' },
  } },
  axisLabel: { color: textDark, fontSize: 13, fontFamily: font, margin: 1, customValues: [1, 2, 3, 4, 5] },
}, 26)
scatterSet(g, placeSmtNeg, '#dfe9f8', '#a3c1ea')
scatterSet(g, placeSmtNegPlace, '#fde6d4', '#fbd3b4')
scatterSet(g, placeSmtPos, '#17365f')
scatterSet(g, placeSmtPosPlace, '#e5741f')

// panel d
g = logScatterPanel(379, 127, {
  type: 'value', min: -0.5, max: 1.5, interval: 0.5, name: 'Grid score',
  nameTextStyle: { fontFamily: font, fontSize: 12.5, color: textDark },
  axisLabel: { color: textDark, fontSize: 13, fontFamily: font, margin: 1 },
}, 24)
scatterSet(g, gridSmtNeg, '#dfe9f8', '#a3c1ea')
scatterSet(g, gridSmtNegGrid, '#fde6d4', '#fbd3b4')
scatterSet(g, gridSmtPos, '#17365f')
scatterSet(g, gridSmtPosGrid, '#e5741f')

// panel e
g = grid.length
grid.push({ left: 621, top: 410, width: 166, height: 125 })
xAxis.push({
  type: 'value', gridIndex: g, min: 0, max: 10, interval: 2, name: 'SMT field width (s)', nameLocation: 'middle', nameGap: 16, nameMoveOverlap: false,
  nameTextStyle: { fontFamily: font, fontSize: 12.5, color: textDark },
  axisLine: { lineStyle: { color: axisGray, width: 1 } }, axisTick: { show: false }, splitLine: { show: false },
  axisLabel: { color: textDark, fontSize: 13, fontFamily: font, margin: 1 },
})
yAxis.push({
  type: 'value', gridIndex: g, min: 0, max: 1, interval: 0.5, name: 'Cumulative probability', nameLocation: 'middle', nameGap: 25, nameMoveOverlap: false,
  nameTextStyle: { fontFamily: font, fontSize: 12.5, color: textDark },
  axisLine: { show: true, lineStyle: { color: axisGray, width: 1 } }, axisTick: { show: false }, splitLine: { show: false },
  axisLabel: { color: textDark, fontSize: 13, fontFamily: font, margin: 4 },
})
series.push({
  type: 'line', xAxisIndex: g, yAxisIndex: g, data: module1Cdf, showSymbol: false, silent: true,
  lineStyle: { color: '#111', width: 2.4 },
})
series.push({
  type: 'line', xAxisIndex: g, yAxisIndex: g, data: modules23Cdf, showSymbol: false, silent: true,
  lineStyle: { color: '#111', width: 2.2, type: [2, 2] },
})

// inset of panel e
g = grid.length
grid.push({ left: 696, top: 486, width: 86, height: 25 })
xAxis.push({
  type: 'value', gridIndex: g, min: 15, max: 90, name: 'Grid spacing (cm)', nameLocation: 'middle', nameGap: 11, nameMoveOverlap: false,
  nameTextStyle: { fontFamily: font, fontSize: 10.5, color: textDark },
  axisLine: { lineStyle: { color: '#888', width: 1 } }, axisTick: { show: false }, splitLine: { show: false },
  axisLabel: { color: textDark, fontSize: 10.5, fontFamily: font, margin: 0, customValues: [20, 40, 60, 80] },
})
yAxis.push({
  type: 'value', gridIndex: g, min: 0, max: 20, interval: 20, name: '# of cells', nameLocation: 'middle', nameGap: 14, nameMoveOverlap: false,
  nameTextStyle: { fontFamily: font, fontSize: 10.5, color: textDark },
  axisLine: { show: true, lineStyle: { color: '#888', width: 1 } }, axisTick: { show: false }, splitLine: { show: false },
  axisLabel: { color: textDark, fontSize: 10.5, fontFamily: font, margin: 2 },
})
series.push({
  type: 'bar', xAxisIndex: g, yAxisIndex: g, data: spacingBars, barWidth: 4.6, silent: true,
  itemStyle: { color: '#b5b5b5' },
})
series.push({
  type: 'line', xAxisIndex: g, yAxisIndex: g, data: spacingCurve, smooth: true, showSymbol: false, silent: true,
  lineStyle: { color: '#222', width: 1.4 },
})

// frames and labels
const orange = '#f0a56e'
const blue = '#a4c0e6'
frame(67, 22, 221, 168, orange, 1.5)
frame(359, 22, 428, 168, orange, 1.5)
frame(67, 196, 221, 185, blue, 1.5)
frame(359, 196, 428, 185, blue, 1.5)
frame(669, 472, 118, 60, '#dcdcdc', 1.5)

text('a', 51, 15, 19, { weight: 'bold', color: '#111' })
text('b', 343, 15, 19, { weight: 'bold', color: '#111' })
text('c', 50, 393, 19, { weight: 'bold', color: '#111' })
text('d', 343, 392, 19, { weight: 'bold', color: '#111' })
text('e', 585, 392, 19, { weight: 'bold', color: '#111' })
text('CA1', 177, 11, 11, { weight: 'bold' })
text('MEC', 573, 11, 11, { weight: 'bold' })

const orangeText = '#e2873f'
const blueText = '#6a9ad8'
text('Place cells', 33.5, 107, 12, { weight: 'bold', color: orangeText })
text('Non-place', 34, 282, 12, { weight: 'bold', color: blueText })
text('cells', 34, 297, 12, { weight: 'bold', color: blueText })
text('Grid cells', 322, 107, 12, { weight: 'bold', color: orangeText })
text('Non-grid', 322, 282, 12, { weight: 'bold', color: blueText })
text('cells', 322, 297, 12, { weight: 'bold', color: blueText })

text('FR (Hz)', 83, 307, 12.5, { rotation: Math.PI / 2 })
text('100', 91, 356, 9.5, { align: 'right' })
text('trials', 84, 364, 9.5)
text('2 s', 108, 365, 9.5)
text('avg', 108, 372, 9.5)
text('p', 131, 364, 13)
text('r', 171, 363, 13)
text('20 cm', 225, 365, 10)

// legends of c and d
function legendBox(x, word) {
  frame(x, 410, 59, 40, '#666', 1.4)
  text('SMT', x + 7, 420, 9.5, { align: 'left' })
  text('+', x + 31, 415, 10)
  text('−', x + 31, 426, 10)
  dot(x + 41, 415, '#17365f', '#17365f')
  dot(x + 50, 415, '#e5741f', '#e5741f')
  dot(x + 41, 425, '#fff', '#a3c1ea')
  dot(x + 50, 425, '#fff', '#fbd3b4')
  text('−', x + 41, 434, 10)
  text('+', x + 50, 434, 10)
  text(word, x + 57, 444, 10, { align: 'right' })
}
legendBox(229, 'place')
legendBox(495, 'grid')

// panel e annotations
text('module 1', 651, 402, 9.5)
text('modules 2&3', 712, 409, 9.5)
text('1', 720, 479, 10.5)
text('2', 736, 486, 10.5)
text('3', 756, 496, 10.5)

const option = {
  animation: false,
  backgroundColor: '#fff',
  textStyle: { fontFamily: font },
  grid, xAxis, yAxis, geo, series, graphic,
  visualMap: [
    {
      type: 'continuous', show: false, seriesIndex: mapSeries, min: 0, max: 0.72,
      inRange: { color: ['#0000c8', '#0040ff', '#00e0ff', '#80ff70', '#ffe000', '#ff3000', '#a00000'] },
    },
    {
      type: 'continuous', show: false, seriesIndex: rasterSeries, dimension: 2, min: 0, max: 1,
      inRange: { color: ['#ffffff', '#2a2a2a'] },
    },
  ],
}

const chart = echarts.init(document.getElementById('chart'))
chart.setOption(option)
</script>
</body>
</html>
